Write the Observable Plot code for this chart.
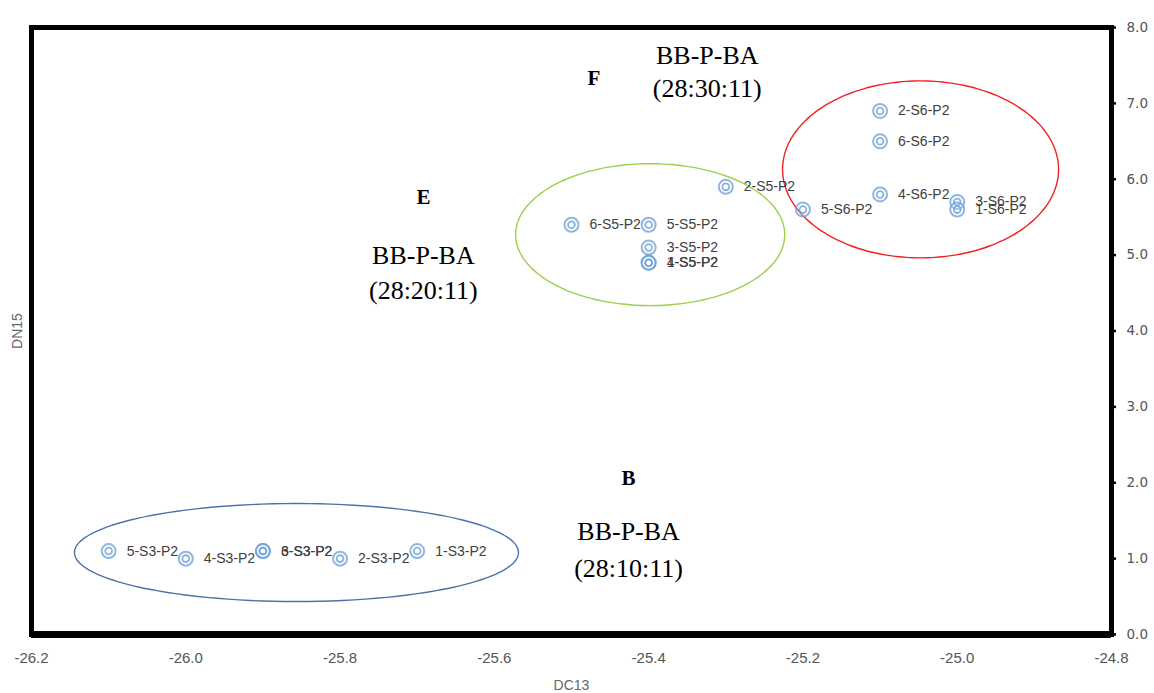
<!DOCTYPE html>
<html>
<head>
<meta charset="utf-8">
<script src="https://cdn.jsdelivr.net/npm/d3@7"></script>
<script src="https://cdn.jsdelivr.net/npm/@observablehq/plot@0.6"></script>
<style>
  html, body { margin: 0; padding: 0; background: #fff; }
  #chart svg { display: block; }
</style>
</head>
<body>
<div id="chart"></div>
<script>
// Sample labels and values (DC13 on x, DN15 on y)
const names = ["5-S3-P2","4-S3-P2","6-S3-P2","3-S3-P2","2-S3-P2","1-S3-P2",
               "6-S5-P2","5-S5-P2","3-S5-P2","4-S5-P2","1-S5-P2","2-S5-P2",
               "2-S6-P2","6-S6-P2","4-S6-P2","5-S6-P2","3-S6-P2","1-S6-P2"];
const dc13 = [-26.1,-26.0,-25.9,-25.9,-25.8,-25.7,
              -25.5,-25.4,-25.4,-25.4,-25.4,-25.3,
              -25.1,-25.1,-25.1,-25.2,-25.0,-25.0];
const dn15 = [1.1,1.0,1.1,1.1,1.0,1.1,
              5.4,5.4,5.1,4.9,4.9,5.9,
              6.9,6.5,5.8,5.6,5.7,5.6];

// Group ellipses (centre and radii in data units)
const groupNames  = ["S3","S5","S6"];
const groupCx     = [-25.8565,-25.398,-25.0475];
const groupCy     = [1.08, 5.27, 6.13];
const groupRx     = [0.2878, 0.1744, 0.1789];
const groupRy     = [0.646, 0.935, 1.166];
const groupColors = ["#4a74a8","#9bd04e","#f22222"];

// Annotations
const annoText = ["F","BB-P-BA","(28:30:11)","E","BB-P-BA","(28:20:11)","B","BB-P-BA","(28:10:11)"];
const annoX    = [-25.471,-25.324,-25.324,-25.692,-25.692,-25.692,-25.426,-25.426,-25.426];
const annoY    = [7.33,7.63,7.20,5.76,4.99,4.53,2.06,1.36,0.87];
const annoBold = [true,false,false,true,false,false,true,false,false];

const xTicks = [-26.2,-26.0,-25.8,-25.6,-25.4,-25.2,-25.0,-24.8];
const yTicks = [0,1,2,3,4,5,6,7,8];

const points = names.map((n,i) => ({name:n, x:dc13[i], y:dn15[i]}));
const angles = d3.range(0, 361, 3).map(a => a * Math.PI / 180);
const ellipsePts = [];
groupNames.forEach((g,i) => {
  angles.forEach(t => ellipsePts.push({
    group: g,
    x: groupCx[i] + groupRx[i]*Math.cos(t),
    y: groupCy[i] + groupRy[i]*Math.sin(t)
  }));
});
const annos = annoText.map((t,i) => ({text:t, x:annoX[i], y:annoY[i], bold:annoBold[i]}));

const markerColor = "#6a9fd6";
const fmt1 = d => d.toFixed(1);

const chart = Plot.plot({
  width: 1154,
  height: 693,
  marginLeft: 31,
  marginRight: 43,
  marginTop: 27,
  marginBottom: 59,
  style: {background: "#fff", fontFamily: "Liberation Sans, Arial, sans-serif"},
  x: {domain: [-26.2, -24.8]},
  y: {domain: [0, 8]},
  marks: [
    Plot.axisX({ticks: xTicks, tickSize: 0, tickPadding: 18, tickFormat: fmt1,
      fontSize: 15, fill: "#555", label: null}),
    Plot.text(["DC13"], {frameAnchor: "bottom", dy: 51, lineAnchor: "middle", fontSize: 14, fill: "#666"}),
    Plot.axisY({anchor: "right", ticks: yTicks, tickSize: 4, tickPadding: 11, strokeWidth: 2.5,
      tickFormat: fmt1, fontSize: 13.5, fill: "#555", label: null,
      fontFamily: "DejaVu Sans, Verdana, sans-serif"}),
    Plot.text(["DN15"], {frameAnchor: "left", dx: -14, rotate: -90, textAnchor: "middle", fontSize: 14, fill: "#666"}),
    Plot.frame({stroke: "#000", strokeWidth: 5}),
    Plot.ruleY([0], {stroke: "#000", strokeWidth: 7}),
    Plot.line(ellipsePts, {x: "x", y: "y", z: "group",
      stroke: d => groupColors[groupNames.indexOf(d.group)], strokeWidth: 1.4, curve: "catmull-rom"}),
    Plot.dot(points, {x: "x", y: "y", r: 7, stroke: markerColor, strokeWidth: 2, fill: "#fff", fillOpacity: 0.2, strokeOpacity: 0.75}),
    Plot.dot(points, {x: "x", y: "y", r: 3.4, stroke: markerColor, strokeWidth: 1.8, fill: "none", strokeOpacity: 0.8}),
    Plot.text(points, {x: "x", y: "y", text: "name", dx: 18, textAnchor: "start", fontSize: 14,
      fill: "#404040", fontFamily: "Liberation Sans, Arial, sans-serif"}),
    Plot.text(annos.filter(d => d.bold), {x: "x", y: "y", text: "text", fontSize: 21, fontWeight: "bold",
      fill: "#000", fontFamily: "Liberation Serif, Times New Roman, serif"}),
    Plot.text(annos.filter(d => !d.bold), {x: "x", y: "y", text: "text", fontSize: 26,
      fill: "#000", fontFamily: "Liberation Serif, Times New Roman, serif"})
  ]
});
document.getElementById("chart").appendChild(chart);
</script>
</body>
</html>
